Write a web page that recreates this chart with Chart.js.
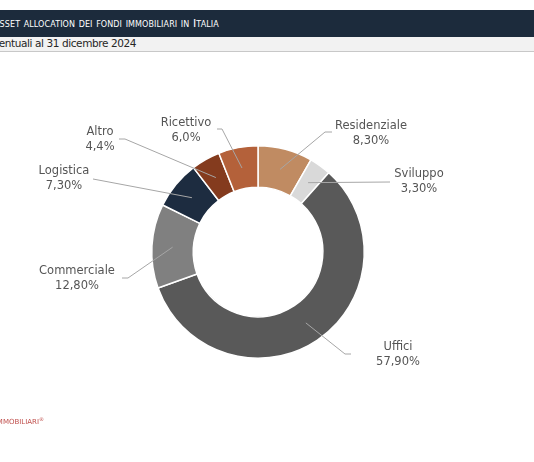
<!DOCTYPE html>
<html>
<head>
<meta charset="utf-8">
<script src="https://cdn.jsdelivr.net/npm/chart.js@4.4.1/dist/chart.umd.min.js"></script>
<style>
  body { margin: 0; background: #fff; }
  #wrap { position: relative; width: 534px; height: 462px; overflow: hidden; font-family: "DejaVu Sans", Verdana, sans-serif; }
  #chart-box { position: absolute; left: 0; top: 0; width: 534px; height: 462px; }
  .title-bar { position: absolute; left: 0; top: 10px; width: 534px; height: 27px; background: #1c2b3c; }
  .title-bar span { position: absolute; left: -8px; top: 7px; color: #fff; font-size: 11px; font-variant: small-caps; white-space: nowrap; letter-spacing: 0.1px; }
  .sub-bar { position: absolute; left: 0; top: 37px; width: 534px; height: 14px; background: #f2f2f2; border-bottom: 1px solid #c8c8c8; }
  .sub-bar span { position: absolute; left: -22px; top: 0px; color: #262626; font-size: 10.5px; letter-spacing: -0.4px; white-space: nowrap; }
  .source { position: absolute; right: 490px; top: 416px; color: #c0504d; font-size: 7px; white-space: nowrap; }
  .source sup { font-size: 5px; }
</style>
</head>
<body>
<div id="wrap">
  <div id="chart-box"><canvas id="donut"></canvas></div>
  <div class="title-bar"><span>Asset allocation dei fondi immobiliari in Italia</span></div>
  <div class="sub-bar"><span>Percentuali al 31 dicembre 2024</span></div>
  <div class="source">SCENARI IMMOBILIARI<sup>®</sup></div>
</div>
<script>
// data, clockwise from 12 o'clock
const categories = ["Residenziale", "Sviluppo", "Uffici", "Commerciale", "Logistica", "Altro", "Ricettivo"];
const shares = [8.3, 3.3, 57.9, 12.8, 7.3, 4.4, 6.0];
const shareLabels = ["8,30%", "3,30%", "57,90%", "12,80%", "7,30%", "4,4%", "6,0%"];

const sliceColors = ["#c08b62", "#d9d9d9", "#595959", "#808080", "#1d2c40", "#843b1e", "#b4613a"];

// label placement relative to donut centre: text centre (cx, cy), elbow (ex, ey), tail end x (tx)
const labelLayout = [
  { cx: 113, cy: -118, ex: 67, ey: -120, tx: 74 },
  { cx: 161, cy: -70, ex: 132, ey: -70, tx: 132 },
  { cx: 140, cy: 103, ex: 87, ey: 102, tx: 93 },
  { cx: -181, cy: 27, ex: -130, ey: 26, tx: -136 },
  { cx: -194, cy: -73, ex: -165, ey: -73, tx: -165 },
  { cx: -158, cy: -112, ex: -133, ey: -113, tx: -139 },
  { cx: -72, cy: -121, ex: -36, ey: -123, tx: -41 },
];

const leaderLabels = {
  id: "leaderLabels",
  afterDatasetsDraw(chart) {
    const ctx = chart.ctx;
    const arcs = chart.getDatasetMeta(0).data;
    const ox = arcs[0].x;
    const oy = arcs[0].y;
    ctx.save();
    arcs.forEach((arc, i) => {
      const lay = labelLayout[i];
      const start = arc.tooltipPosition();
      ctx.beginPath();
      ctx.strokeStyle = "#a6a6a6";
      ctx.lineWidth = 1;
      ctx.moveTo(start.x, start.y);
      ctx.lineTo(ox + lay.ex, oy + lay.ey);
      ctx.lineTo(ox + lay.tx, oy + lay.ey);
      ctx.stroke();

      ctx.fillStyle = "#555555";
      ctx.font = "11.5px 'DejaVu Sans', Verdana, sans-serif";
      ctx.textAlign = "center";
      ctx.textBaseline = "middle";
      ctx.fillText(categories[i], ox + lay.cx, oy + lay.cy - 7.5);
      ctx.fillText(shareLabels[i], ox + lay.cx, oy + lay.cy + 7.5);
    });
    ctx.restore();
  },
};

new Chart(document.getElementById("donut"), {
  type: "doughnut",
  data: {
    labels: categories,
    datasets: [{
      data: shares,
      backgroundColor: sliceColors,
      borderColor: "#ffffff",
      borderWidth: 1.5,
    }],
  },
  options: {
    responsive: true,
    maintainAspectRatio: false,
    animation: false,
    cutout: "61%",
    layout: { padding: { left: 151, right: 169, top: 145, bottom: 103 } },
    plugins: {
      legend: { display: false },
      tooltip: { enabled: false },
    },
  },
  plugins: [leaderLabels],
});
</script>
</body>
</html>
